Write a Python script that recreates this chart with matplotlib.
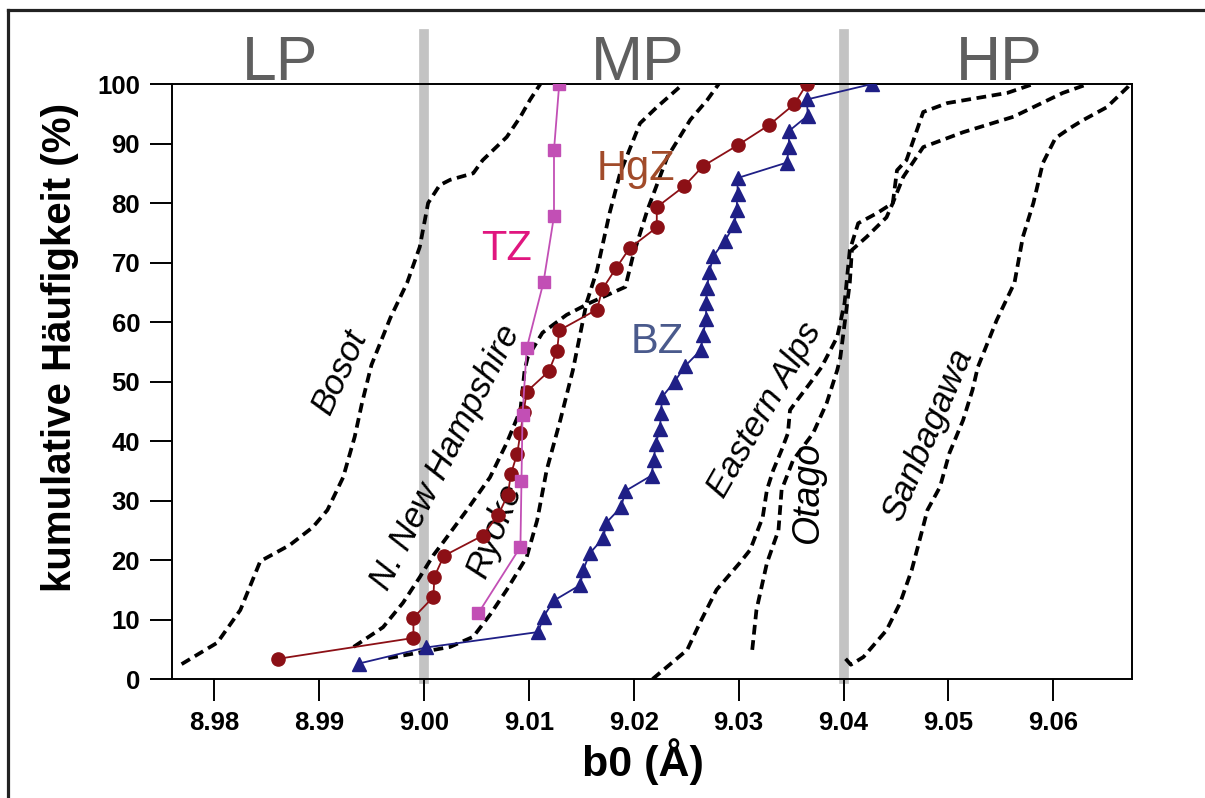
import matplotlib
matplotlib.use('Agg')
import matplotlib.pyplot as plt
from matplotlib.lines import Line2D

plt.rcParams['font.family'] = ['Liberation Sans', 'DejaVu Sans']

# cumulative b0 distributions of the measured zones
tz_b0 = [9.0052, 9.0092, 9.0093, 9.0094, 9.0098, 9.0114, 9.0124, 9.0124, 9.0129]
tz_cum = [11.1, 22.2, 33.3, 44.4, 55.6, 66.7, 77.8, 88.9, 100.0]

hgz_b0 = [8.9861, 8.9990, 8.9990, 9.0009, 9.0010, 9.0019, 9.0056, 9.0071, 9.0080, 9.0083,
          9.0089, 9.0092, 9.0095, 9.0098, 9.0119, 9.0127, 9.0129, 9.0165, 9.0170, 9.0183,
          9.0196, 9.0222, 9.0222, 9.0248, 9.0266, 9.0299, 9.0329, 9.0353, 9.0365]
hgz_cum = [3.4, 6.9, 10.3, 13.8, 17.2, 20.7, 24.1, 27.6, 31.0, 34.5,
           37.9, 41.4, 44.8, 48.3, 51.7, 55.2, 58.6, 62.1, 65.5, 69.0,
           72.4, 75.9, 79.3, 82.8, 86.2, 89.7, 93.1, 96.6, 100.0]

bz_b0 = [8.9938, 9.0002, 9.0109, 9.0114, 9.0124, 9.0149, 9.0152, 9.0158, 9.0171, 9.0174,
         9.0188, 9.0192, 9.0217, 9.0219, 9.0221, 9.0225, 9.0226, 9.0227, 9.0239, 9.0249,
         9.0264, 9.0266, 9.0269, 9.0269, 9.0270, 9.0272, 9.0276, 9.0287, 9.0296, 9.0298,
         9.0299, 9.0299, 9.0346, 9.0348, 9.0348, 9.0366, 9.0365, 9.0427]
bz_cum = [2.6, 5.3, 7.9, 10.5, 13.2, 15.8, 18.4, 21.1, 23.7, 26.3,
          28.9, 31.6, 34.2, 36.8, 39.5, 42.1, 44.7, 47.4, 50.0, 52.6,
          55.3, 57.9, 60.5, 63.2, 65.8, 68.4, 71.1, 73.7, 76.3, 78.9,
          81.6, 84.2, 86.8, 89.5, 92.1, 94.7, 97.4, 100.0]

# reference curves from other metamorphic belts
bosot_b0 = [8.9769, 8.9803, 8.9825, 8.9844, 8.9872, 8.9894, 8.9908, 8.9923, 8.9934, 8.9941,
            8.9950, 8.9968, 8.9984, 8.9996, 9.0004, 9.0015, 9.0025, 9.0047, 9.0056, 9.0079,
            9.0092, 9.0101, 9.0111]
bosot_cum = [2.5, 6.1, 11.6, 19.8, 22.5, 25.5, 28.4, 33.9, 40.7, 46.4,
             52.8, 60.7, 66.6, 72.6, 80.0, 83.0, 83.9, 85.0, 87.2, 91.1,
             94.5, 97.3, 100.0]

nh_b0 = [8.9933, 8.9961, 8.9980, 8.9996, 9.0009, 9.0018, 9.0041, 9.0063, 9.0079, 9.0092,
         9.0096, 9.0099, 9.0113, 9.0136, 9.0158, 9.0192, 9.0199, 9.0213, 9.0232, 9.0254,
         9.0270, 9.0281]
nh_cum = [5.4, 8.7, 12.8, 17.1, 20.8, 22.9, 28.4, 33.9, 39.7, 45.2,
          51.9, 54.1, 58.2, 61.2, 63.2, 65.9, 70.9, 78.8, 87.7, 94.0,
          97.3, 100.0]

ryoke_b0 = [8.9966, 9.0025, 9.0047, 9.0063, 9.0079, 9.0098, 9.0108, 9.0117, 9.0130, 9.0142,
            9.0155, 9.0165, 9.0177, 9.0187, 9.0206, 9.0222, 9.0247]
ryoke_cum = [3.5, 5.4, 7.1, 10.8, 15.0, 20.5, 26.7, 35.1, 43.5, 51.9,
             63.2, 68.7, 78.3, 85.0, 93.4, 96.1, 100.0]

ealps_b0 = [9.0218, 9.0251, 9.0263, 9.0279, 9.0301, 9.0311, 9.0323, 9.0327, 9.0333, 9.0341,
            9.0347, 9.0349, 9.0356, 9.0368, 9.0379, 9.0394, 9.0401, 9.0406, 9.0414, 9.0432,
            9.0447, 9.0451, 9.0460, 9.0476, 9.0499, 9.0556, 9.0581]
ealps_cum = [0.0, 4.9, 9.4, 15.0, 19.5, 21.7, 27.2, 31.8, 35.1, 38.5,
             41.3, 45.2, 46.9, 49.7, 52.4, 57.5, 63.2, 72.1, 76.6, 78.3,
             80.0, 85.5, 87.2, 95.3, 96.8, 98.5, 100.0]

otago_b0 = [9.0313, 9.0317, 9.0327, 9.0338, 9.0341, 9.0352, 9.0371, 9.0384, 9.0394, 9.0397,
            9.0406, 9.0408, 9.0422, 9.0441, 9.0447, 9.0457, 9.0476, 9.0514, 9.0562, 9.0609,
            9.0633]
otago_cum = [4.9, 11.6, 19.5, 25.0, 31.8, 36.8, 41.3, 46.4, 51.9, 54.1,
             66.6, 72.1, 74.3, 77.6, 80.0, 84.4, 89.4, 91.9, 94.5, 98.5,
             100.0]

sanba_b0 = [9.0402, 9.0407, 9.0419, 9.0441, 9.0454, 9.0465, 9.0475, 9.0480, 9.0492, 9.0501,
            9.0514, 9.0523, 9.0528, 9.0546, 9.0563, 9.0571, 9.0581, 9.0590, 9.0602, 9.0616,
            9.0628, 9.0651, 9.0671, 9.0673]
sanba_cum = [3.4, 2.4, 3.7, 8.2, 12.8, 18.3, 25.0, 28.4, 32.3, 38.0,
             43.5, 48.6, 52.4, 60.3, 66.6, 74.3, 80.0, 86.7, 90.9, 92.6,
             93.9, 96.1, 99.5, 100.0]

field_bounds = [9.00, 9.04]
field_names = ['LP', 'MP', 'HP']
field_pos = [8.9863, 9.0204, 9.0548]

x_ticks = [8.98, 8.99, 9.00, 9.01, 9.02, 9.03, 9.04, 9.05, 9.06]
y_ticks = [0, 10, 20, 30, 40, 50, 60, 70, 80, 90, 100]

fig = plt.figure(figsize=(12.05, 7.98), dpi=100)
ax = fig.add_axes([0.1427, 0.1491, 0.7967, 0.7456])

# grey LP / MP / HP boundaries, reaching above the frame
for xb in field_bounds:
    ax.axvline(xb, ymin=0, ymax=1.084, color='#c3c3c3', lw=7, zorder=1, clip_on=False)

for name, xp in zip(field_names, field_pos):
    ax.text(xp, 100.7, name, ha='center', va='baseline', fontsize=45,
            color='#5f5f5f', clip_on=False)

dash_kw = dict(color='black', lw=2.7, dashes=(2.6, 1.5), zorder=2)
ax.plot(bosot_b0, bosot_cum, **dash_kw)
ax.plot(nh_b0, nh_cum, **dash_kw)
ax.plot(ryoke_b0, ryoke_cum, **dash_kw)
ax.plot(ealps_b0, ealps_cum, **dash_kw)
ax.plot(otago_b0, otago_cum, **dash_kw)
ax.plot(sanba_b0, sanba_cum, **dash_kw)

ax.plot(hgz_b0, hgz_cum, color='#8c1016', lw=1.3, marker='o', ms=9.5, zorder=4)
ax.plot(bz_b0, bz_cum, color='#1f1f86', lw=1.3, marker='^', ms=10, zorder=4)
ax.plot(tz_b0, tz_cum, color='#c24fb5', lw=1.3, marker='s', ms=8, zorder=5)

# curve names
lab_kw = dict(ha='center', va='center', fontsize=25, style='italic', zorder=3)
ax.text(8.9920, 51.6, 'Bosot', rotation=65, **lab_kw)
ax.text(9.0021, 37.3, 'N. New Hampshire', rotation=63, **lab_kw)
ax.text(9.0068, 25.0, 'Ryoke', rotation=68, **lab_kw)
ax.text(9.0325, 45.2, 'Eastern Alps', rotation=60, **lab_kw)
ax.text(9.0366, 31.4, 'Otago', rotation=90, fontsize=27, ha='center', va='center',
        style='italic', zorder=3)
ax.text(9.0480, 41.0, 'Sanbagawa', rotation=67, **lab_kw)

ax.text(9.0079, 70.4, 'TZ', ha='center', va='baseline', fontsize=30, color='#e0167f')
ax.text(9.0202, 83.9, 'HgZ', ha='center', va='baseline', fontsize=30, color='#a14b2a')
ax.text(9.0222, 54.8, 'BZ', ha='center', va='baseline', fontsize=30, color='#4a5a8c')

ax.set_xlim(8.97598, 9.0675)
ax.set_ylim(0, 100)
ax.set_xticks(x_ticks)
ax.set_xticklabels(['%.2f' % v for v in x_ticks])
ax.set_yticks(y_ticks)
ax.tick_params(direction='out', length=16, width=1.4, labelsize=18.5, pad=7)
for lab in ax.get_xticklabels() + ax.get_yticklabels():
    lab.set_fontweight('bold')
for sp in ax.spines.values():
    sp.set_linewidth(1.4)

ax.set_xlabel('b0 (Å)', fontsize=31, fontweight='bold', va='center')
ax.xaxis.set_label_coords(0.4906, -0.139)
ax.set_ylabel('kumulative Häufigkeit (%)', fontsize=29, fontweight='bold', va='center')
ax.yaxis.set_label_coords(-0.1167, 0.558)

# outer frame (top and left edges visible)
fig.add_artist(Line2D([0.0066, 1.0], [0.9875, 0.9875], color='#222222', lw=2.3))
fig.add_artist(Line2D([0.0066, 0.0066], [0.0, 0.9875], color='#222222', lw=2.3))

fig.savefig('out.png', dpi=100)
